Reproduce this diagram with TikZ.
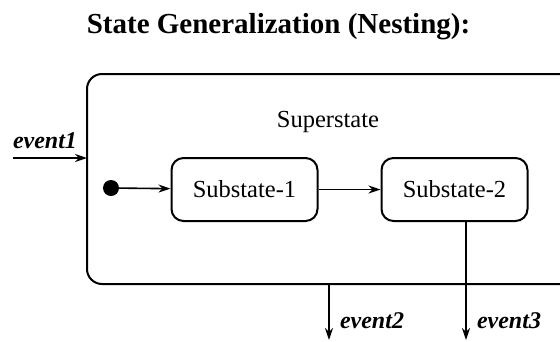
\documentclass[tikz,border=0pt]{standalone}
\usepackage{fontspec}
\setmainfont{Liberation Serif}
\usetikzlibrary{arrows.meta}
\begin{document}
\begin{tikzpicture}[x=1pt,y=-1pt,
  statebox/.style={draw,line width=2pt,rounded corners=12pt,inner sep=0pt,minimum width=146pt,minimum height=63pt,font=\fontsize{24.5}{28}\selectfont},
  conn/.style={line width=1.6pt,-{Stealth[length=12pt,width=8pt]}},
  evlabel/.style={font=\fontsize{24}{28}\selectfont\bfseries\itshape,inner sep=0pt,anchor=base}]
\useasboundingbox (0,0) rectangle (560,341);
\clip (0,0) rectangle (560,341);
\node[font=\fontsize{29}{33}\selectfont\bfseries,inner sep=0pt,anchor=base] (title) at (278.5,33) {State Generalization (Nesting):};
\node[draw,line width=2pt,rounded corners=15pt,minimum width=500pt,minimum height=210pt,inner sep=0pt] (super) at (337,179) {};
\node[font=\fontsize{24.5}{28}\selectfont,inner sep=0pt,anchor=base] (suplabel) at (328,127) {Superstate};
\node[statebox] (sub1) at (244.5,189.5) {Substate-1};
\node[statebox] (sub2) at (454.5,189.5) {Substate-2};
\node[circle,fill,inner sep=0pt,minimum size=16pt] (init) at (111,188) {};
\draw[conn] (init) -- (sub1);
\draw[conn] (sub1) -- (sub2);
\coordinate (e1s) at (13,158);
\coordinate (e1e) at (87,158);
\draw[conn] (e1s) -- (e1e);
\node[evlabel] (ev1) at (45,148) {event1};
\coordinate (e2s) at (329,284);
\coordinate (e2e) at (329,340);
\draw[conn] (e2s) -- (e2e);
\node[evlabel] (ev2) at (372,328) {event2};
\coordinate (e3s) at (sub2.south -| 466,0);
\coordinate (e3e) at (466,340);
\draw[conn] (e3s) -- (e3e);
\node[evlabel] (ev3) at (509,328) {event3};
\end{tikzpicture}
\end{document}
